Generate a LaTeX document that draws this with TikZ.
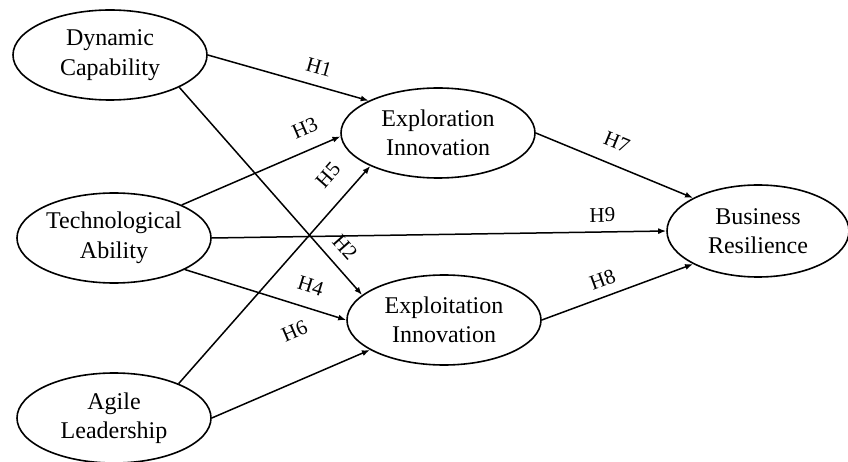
\documentclass[tikz,border=0pt]{standalone}
\usepackage{fontspec}
\setmainfont{Liberation Serif}
\usetikzlibrary{arrows.meta,shapes.geometric}
\tikzset{
  construct/.style={draw, ellipse, line width=1.6pt, minimum width=194pt, minimum height=90pt,
    inner sep=0pt, align=center, font=\fontsize{24}{29.5}\selectfont},
  link/.style={-{Latex[length=8pt,width=6pt]}, line width=1.5pt},
  hyp/.style={font=\fontsize{21}{21}\selectfont, sloped, inner sep=0pt}
}
\begin{document}
\begin{tikzpicture}[x=1pt, y=-1pt]
    \useasboundingbox (0,0) rectangle (848,462);
    % constructs
    \node[construct] (dc) at (110,55) {Dynamic\\Capability};
    \node[construct] (ta) at (114,238) {Technological\\Ability};
    \node[construct] (al) at (114,418) {Agile\\Leadership};
    \node[construct] (xr) at (438,133) {Exploration\\Innovation};
    \node[construct] (xt) at (444,320) {Exploitation\\Innovation};
    \node[construct, minimum width=182pt, minimum height=92pt] (br) at (758,231) {Business\\Resilience};
    % hypotheses
    \draw[link] (dc.east) -- node[hyp, pos=0.66, above=11pt] {H1} (xr.155);
    \draw[link] (dc.-25) -- node[hyp, pos=0.83, above=11pt] {H2} (xt.163);
    \draw[link] (ta.26) -- node[hyp, pos=0.83, above=14pt] {H3} (xr.182);
    \draw[link] (ta.-24) -- node[hyp, pos=0.74, above=14pt] {H4} (xt.west);
    \draw[link] (al.28) -- node[hyp, pos=0.88, above=18pt] {H5} (xr.206);
    \draw[link] (al.east) -- node[hyp, pos=0.64, above=39pt] {H6} (xt.202);
    \draw[link] (xr.east) -- node[hyp, pos=0.46, above=15pt] {H7} (br.153);
    \draw[link] (xt.east) -- node[hyp, pos=0.44, above=9pt] {H8} (br.207);
    \draw[link] (ta.east) -- node[hyp, pos=0.86, above=9pt] {H9} (br.west);
\end{tikzpicture}
\end{document}
